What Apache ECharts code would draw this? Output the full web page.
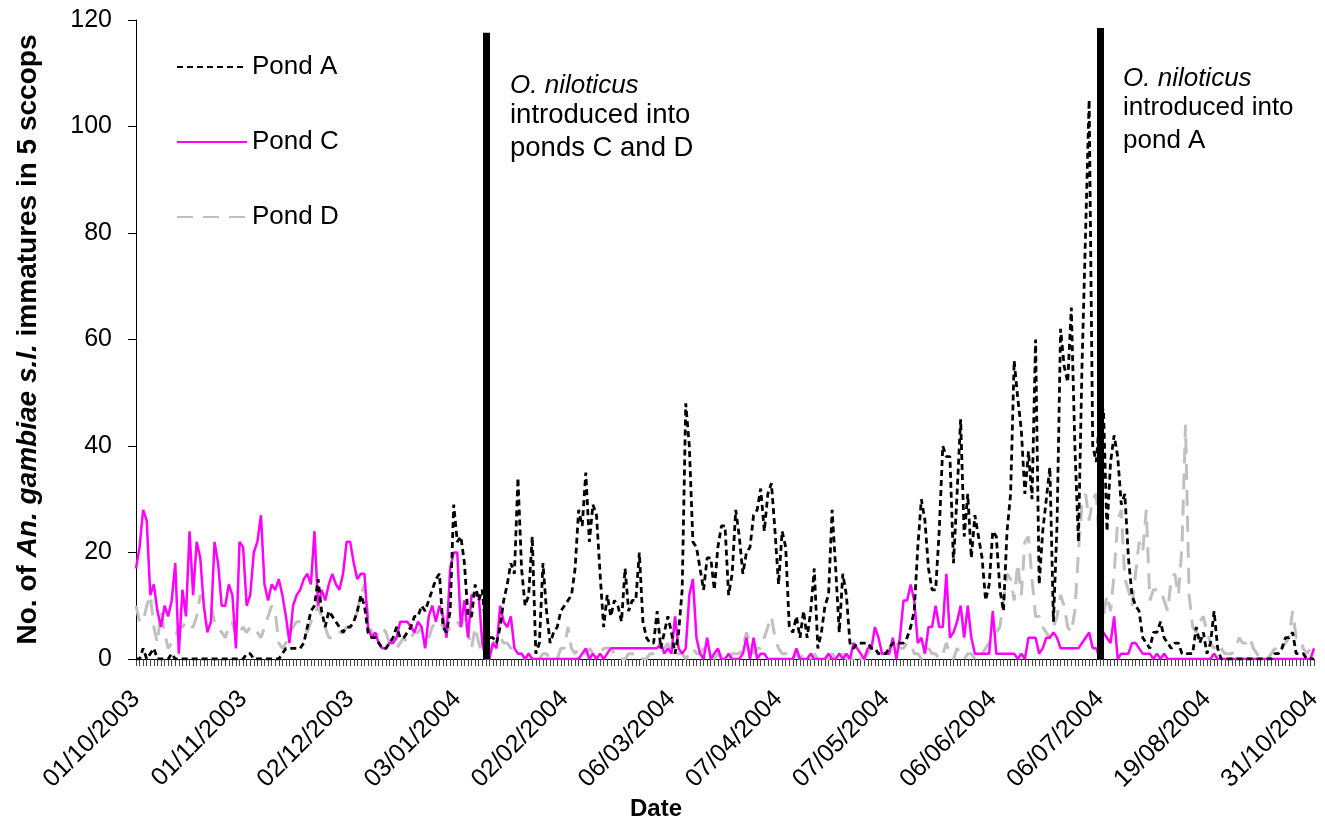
<!DOCTYPE html>
<html>
<head>
<meta charset="utf-8">
<title>An. gambiae immatures</title>
<script src="https://cdn.jsdelivr.net/npm/echarts@6/dist/echarts.min.js"></script>
<style>
  html, body { margin: 0; padding: 0; background: #fff; }
  #myChart { width: 1325px; height: 826px; }
</style>
</head>
<body>
<div id="myChart"></div>
<script type="text/javascript">
// labels shown every 30 samples along the x axis
const tickLabels = ['01/10/2003', '01/11/2003', '02/12/2003', '03/01/2004', '02/02/2004', '06/03/2004',
  '07/04/2004', '07/05/2004', '06/06/2004', '06/07/2004', '19/08/2004', '31/10/2004']

const pondA = [
  0, 0, 2, 0, 1, 2, 0, 0, 0, 0,
  1, 0, 0, 0, 0, 0, 0, 0, 0, 0,
  0, 0, 0, 0, 0, 0, 0, 0, 0, 0,
  0, 1, 1, 0, 0, 0, 0, 0, 0, 0,
  0, 1, 2, 2, 2, 2, 2, 3, 6, 9,
  10, 15, 9, 6, 9, 8, 7, 6, 5, 6,
  6, 7, 9, 12, 10, 5, 4, 4, 3, 2,
  2, 3, 4, 6, 4, 4, 5, 6, 8, 8,
  10, 9, 11, 13, 15, 16, 6, 5, 9, 29,
  22, 23, 18, 8, 8, 14, 11, 13, 5, 4,
  4, 3, 6, 11, 14, 18, 16, 34, 17, 10,
  12, 23, 1, 3, 18, 9, 3, 5, 6, 9,
  10, 11, 12, 17, 28, 25, 35, 22, 29, 27,
  16, 6, 12, 8, 11, 10, 7, 17, 9, 11,
  11, 20, 7, 4, 3, 3, 9, 2, 5, 8,
  5, 1, 5, 13, 48, 40, 22, 21, 17, 13,
  19, 19, 13, 21, 25, 25, 12, 16, 28, 23,
  16, 20, 21, 27, 28, 32, 24, 31, 33, 24,
  14, 24, 21, 6, 5, 8, 4, 9, 4, 9,
  17, 2, 5, 10, 12, 28, 17, 5, 16, 12,
  3, 2, 3, 3, 3, 3, 2, 2, 1, 1,
  1, 2, 3, 3, 3, 3, 4, 6, 9, 21,
  30, 26, 17, 13, 13, 24, 40, 38, 38, 18,
  31, 45, 23, 31, 19, 27, 23, 19, 11, 14,
  24, 23, 13, 9, 24, 31, 56, 49, 43, 31,
  39, 30, 60, 14, 24, 30, 36, 7, 25, 62,
  55, 52, 66, 40, 22, 55, 80, 105, 40, 37,
  46, 47, 24, 37, 42, 38, 29, 31, 19, 12,
  10, 9, 4, 3, 2, 5, 5, 7, 4, 3,
  2, 3, 3, 1, 1, 1, 1, 6, 3, 5,
  1, 3, 9, 2, 0, 0, 0, 0, 0, 0,
  0, 0, 0, 0, 0, 0, 0, 0, 0, 1,
  1, 2, 4, 4, 5, 1, 1, 1, 0, 0,
  0
]

const pondC = [
  17, 21, 28, 26, 12, 14, 9, 6, 10, 8,
  11, 18, 1, 13, 8, 24, 12, 22, 19, 10,
  5, 7, 22, 18, 10, 10, 14, 12, 2, 22,
  21, 10, 12, 20, 22, 27, 14, 11, 14, 13,
  15, 12, 8, 3, 10, 12, 13, 15, 16, 14,
  24, 10, 13, 11, 14, 16, 14, 13, 16, 22,
  22, 18, 15, 16, 16, 6, 4, 5, 3, 2,
  2, 3, 3, 4, 7, 7, 7, 6, 5, 7,
  6, 2, 8, 10, 7, 10, 8, 4, 17, 20,
  20, 6, 11, 4, 12, 12, 12, 3, 0, 0,
  3, 2, 10, 7, 6, 8, 2, 1, 1, 0,
  1, 0, 0, 0, 0, 0, 0, 0, 0, 0,
  0, 0, 0, 0, 0, 1, 2, 0, 1, 0,
  1, 0, 1, 2, 2, 2, 2, 2, 2, 2,
  2, 2, 2, 2, 2, 2, 2, 3, 1, 2,
  1, 8, 2, 1, 2, 12, 15, 4, 1, 0,
  4, 0, 1, 2, 0, 0, 1, 0, 0, 0,
  1, 4, 0, 4, 0, 1, 1, 0, 0, 0,
  0, 0, 0, 0, 0, 2, 0, 0, 0, 1,
  0, 0, 0, 0, 1, 0, 0, 1, 0, 1,
  0, 3, 2, 1, 0, 2, 2, 6, 4, 1,
  1, 1, 4, 0, 4, 11, 11, 14, 11, 3,
  4, 1, 6, 6, 10, 6, 6, 16, 4, 5,
  7, 10, 4, 10, 4, 1, 1, 1, 1, 1,
  9, 1, 1, 1, 1, 1, 1, 0, 1, 0,
  4, 4, 4, 1, 2, 4, 4, 5, 4, 2,
  2, 2, 2, 2, 2, 3, 4, 5, 2, 2,
  0, 5, 4, 3, 8, 0, 1, 1, 1, 3,
  3, 2, 1, 1, 1, 0, 1, 0, 1, 0,
  0, 0, 0, 0, 0, 0, 0, 0, 0, 0,
  0, 0, 1, 0, 0, 0, 0, 0, 0, 0,
  0, 0, 0, 0, 0, 0, 0, 0, 0, 0,
  0, 0, 0, 0, 0, 0, 0, 0, 0, 0,
  2
]

const pondD = [
  10, 7, 7, 10, 12, 6, 3, 9, 5, 2,
  3, 4, 6, 6, 7, 6, 6, 8, 12, 11,
  10, 10, 7, 6, 5, 4, 6, 7, 4, 5,
  6, 5, 6, 6, 5, 4, 6, 8, 10, 9,
  3, 2, 3, 5, 6, 7, 7, 6, 5, 7,
  8, 10, 8, 6, 4, 4, 4, 5, 5, 6,
  6, 7, 9, 12, 14, 8, 5, 4, 5, 6,
  5, 3, 2, 2, 3, 4, 3, 4, 5, 5,
  6, 5, 4, 6, 7, 7, 6, 5, 6, 6,
  7, 6, 8, 5, 2, 6, 3, 1, 1, 1,
  3, 4, 4, 3, 3, 2, 2, 1, 1, 0,
  1, 1, 0, 0, 1, 1, 0, 0, 0, 2,
  2, 6, 2, 1, 2, 2, 1, 2, 1, 1,
  1, 2, 2, 2, 1, 0, 0, 0, 1, 1,
  1, 1, 0, 0, 1, 1, 1, 2, 2, 3,
  1, 1, 1, 1, 0, 1, 2, 1, 1, 2,
  1, 1, 0, 1, 0, 0, 0, 1, 1, 1,
  2, 5, 3, 1, 2, 2, 4, 6, 8, 4,
  2, 1, 1, 1, 0, 1, 0, 1, 1, 0,
  1, 0, 1, 0, 0, 1, 0, 0, 1, 0,
  0, 0, 1, 0, 0, 1, 2, 1, 1, 1,
  1, 2, 2, 3, 2, 2, 3, 3, 1, 1,
  0, 1, 2, 1, 1, 0, 1, 3, 1, 0,
  2, 1, 0, 1, 1, 0, 1, 1, 2, 3,
  4, 5, 6, 11, 16, 15, 11, 18, 12, 22,
  23, 15, 8, 8, 6, 5, 4, 6, 8, 12,
  10, 6, 5, 9, 20, 29, 31, 26, 30, 31,
  20, 8, 12, 9, 16, 26, 28, 15, 13, 10,
  16, 22, 20, 28, 11, 13, 13, 13, 11, 9,
  15, 16, 12, 21, 44, 12, 6, 5, 7, 8,
  5, 3, 2, 3, 2, 1, 1, 1, 2, 4,
  3, 3, 4, 2, 1, 0, 0, 0, 1, 2,
  1, 2, 3, 4, 9, 4, 4, 2, 1, 2,
  3
]

// sample index where O. niloticus was introduced, and top of the marker line
const introIndex = [98, 270]
const introTop = [117.6, 118.5]

const categories = pondA.map((v, i) => i % 30 === 0 ? tickLabels[i / 30] : 'sample ' + (i + 1))

const font = 'Liberation Sans, Arial, sans-serif'

let myChart = echarts.init(document.getElementById('myChart'))
myChart.setOption({
  animation: false,
  textStyle: {fontFamily: font, color: '#000'},
  grid: {left: 136, right: 8, top: 20, bottom: 167},
  legend: {
    orient: 'vertical',
    left: 176,
    top: 54,
    padding: 0,
    itemWidth: 70,
    itemHeight: 26,
    itemGap: 49,
    itemTextGap: 7,
    itemStyle: {opacity: 0},
    data: ['Pond A', 'Pond C', 'Pond D'],
    textStyle: {fontSize: 26, color: '#000', fontFamily: font}
  },
  xAxis: {
    type: 'category',
    boundaryGap: false,
    data: categories,
    axisLine: {lineStyle: {color: '#000', width: 1}},
    axisTick: {show: true, interval: 0, length: 7, inside: false, lineStyle: {color: '#444', width: 1}},
    axisLabel: {
      interval: 29,
      rotate: 45,
      margin: 36,
      fontSize: 25,
      color: '#000',
      fontFamily: font
    },
    splitLine: {show: false}
  },
  yAxis: {
    type: 'value',
    min: 0,
    max: 120,
    interval: 20,
    name: 'No. of {i|An. gambiae s.l.} immatures in 5 sccops',
    nameLocation: 'middle',
    nameGap: 94,
    nameTextStyle: {
      fontSize: 28, fontWeight: 'bold', color: '#000', fontFamily: font,
      rich: {i: {fontSize: 28, fontWeight: 'bold', fontStyle: 'italic', color: '#000', fontFamily: font}}
    },
    axisLine: {show: true, lineStyle: {color: '#000', width: 1}},
    axisTick: {show: true, length: 8, lineStyle: {color: '#000'}},
    axisLabel: {fontSize: 25, color: '#000', margin: 24, fontFamily: font},
    splitLine: {show: false}
  },
  graphic: [
    {
      type: 'text', left: 630, top: 797,
      style: {text: 'Date', font: 'bold 24px ' + font, fill: '#000'}
    },
    {
      type: 'text', left: 510, top: 73,
      style: {
        text: '{i|O. niloticus}\n{n|introduced into}\n{n|ponds C and D}',
        fill: '#000',
        rich: {
          i: {fontSize: 26, fontStyle: 'italic', fontFamily: font, lineHeight: 25},
          n: {fontSize: 27.5, fontFamily: font, lineHeight: 33}
        }
      }
    },
    {
      type: 'text', left: 1123, top: 66,
      style: {
        text: '{i|O. niloticus}\n{n|introduced into}\n{n|pond A}',
        fill: '#000',
        rich: {
          i: {fontSize: 26, fontStyle: 'italic', fontFamily: font, lineHeight: 25},
          n: {fontSize: 26, fontFamily: font, lineHeight: 33}
        }
      }
    }
  ],
  series: [
    {
      name: 'Pond A',
      type: 'line',
      z: 4,
      symbol: 'none',
      data: pondA,
      lineStyle: {color: '#000', width: 2.8, type: [6, 4]},
      itemStyle: {color: '#000'},
      emphasis: {disabled: true},
      markLine: {
        silent: true,
        symbol: 'none',
        label: {show: false},
        lineStyle: {color: '#000', width: 7, type: 'solid'},
        data: introIndex.map((idx, k) => [{coord: [idx, 0]}, {coord: [idx, introTop[k]]}])
      }
    },
    {
      name: 'Pond C',
      type: 'line',
      z: 3,
      symbol: 'none',
      data: pondC,
      lineStyle: {color: '#FF00FF', width: 2.5},
      itemStyle: {color: '#FF00FF'},
      emphasis: {disabled: true}
    },
    {
      name: 'Pond D',
      type: 'line',
      z: 2,
      symbol: 'none',
      data: pondD,
      lineStyle: {color: '#C0C0C0', width: 3, type: [16, 10]},
      itemStyle: {color: '#C0C0C0'},
      emphasis: {disabled: true}
    }
  ]
})
</script>
</body>
</html>
